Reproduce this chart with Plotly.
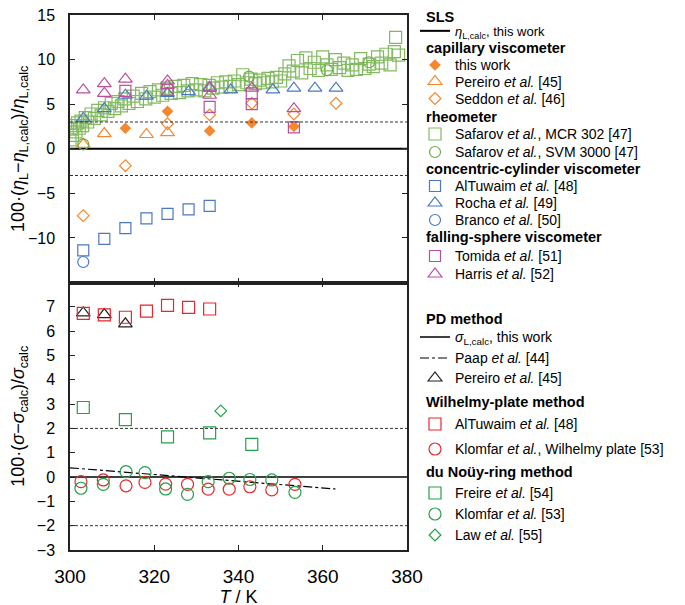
import plotly.graph_objects as go
from plotly.subplots import make_subplots

# ---------------- data: viscosity deviations (top panel) ----------------
T_ref = [300, 380]
calc_line = [0, 0]
eta_band = 3
sigma_band = 2

tw_T = [313.15, 323.15, 333.15, 343.15, 353.15]
tw_dev = [2.3, 4.2, 2.0, 2.9, 2.5]

pereiro_eta_T = [303.15, 308.15, 318.15, 323.15]
pereiro_eta_dev = [0.5, 1.7, 1.6, 1.8]

seddon_T = [303.15, 313.15, 323.15, 333.15, 343.15, 353.15, 363.15]
seddon_dev = [-7.5, -1.9, 2.8, 3.8, 5.1, 3.9, 5.1]

mcr_T = [300.0, 300.3, 300.6, 301.0, 301.4, 301.8, 302.2, 302.6, 303.0, 303.6, 304.2,
         305.0, 305.8, 306.6, 307.4, 308.2, 309.0, 309.8, 310.6, 311.4, 312.2, 313.0,
         314.0, 315.0, 316.0, 317.0, 318.0, 319.0, 320.0, 321.0, 322.0, 323.0, 324.0,
         325.0, 326.0, 327.0, 328.0, 329.0, 330.0, 331.0, 332.0, 333.0, 334.0, 335.0,
         336.0, 337.0, 338.0, 339.0, 340.0, 341.0, 342.0, 343.0, 344.0, 345.0, 346.0,
         347.0, 348.0, 349.0, 350.0, 351.0, 352.0, 353.0, 354.0, 355.0, 356.0, 357.0,
         358.0, 359.0, 360.0, 361.0, 362.0, 363.0, 364.0, 365.0, 366.0, 367.0, 368.0,
         369.0, 370.0, 371.0, 372.0, 373.0, 374.0, 375.0, 376.0, 377.0, 377.3, 378.0]
mcr_dev = [1.0, 2.2, 1.5, 2.6, 1.9, 2.9, 2.3, 3.1, 2.6, 3.5, 3.0,
           3.9, 3.4, 4.3, 3.8, 4.6, 4.2, 5.1, 4.5, 5.3, 4.8, 5.6,
           5.1, 5.9, 5.3, 6.2, 5.6, 6.4, 5.8, 6.6, 6.0, 6.8, 6.2,
           7.0, 6.3, 7.1, 6.5, 7.3, 6.6, 7.2, 6.5, 7.1, 6.8, 7.4,
           6.9, 7.5, 7.0, 7.6, 7.2, 8.3, 7.4, 7.8, 7.3, 7.7, 7.4,
           7.9, 7.5, 8.0, 7.6, 8.4, 9.3, 8.7, 9.9, 8.5, 10.2, 9.0,
           9.7, 8.8, 10.3, 9.4, 8.9, 10.0, 9.1, 9.6, 8.8, 9.4, 8.9,
           10.1, 9.0, 9.5, 9.2, 10.3, 9.6, 10.6, 9.4, 10.9, 12.5, 10.5]

svm_T = [303.15, 342.5, 361.0, 371.0]
svm_dev = [0.5, 8.1, 8.8, 9.7]

altuwaim_eta_T = [303.15, 308.15, 313.15, 318.15, 323.15, 328.15, 333.15]
altuwaim_eta_dev = [-11.4, -10.1, -8.9, -7.8, -7.3, -6.8, -6.4]

rocha_T = [303.15, 308.15, 313.15, 318.15, 323.15, 328.15, 333.15, 338.15, 348.15,
           353.15, 358.15, 363.15]
rocha_dev = [3.4, 4.5, 6.0, 5.9, 6.2, 6.4, 6.8, 6.6, 6.6, 6.8, 6.8, 6.8]

branco_T = [303.15]
branco_dev = [-12.7]

tomida_T = [313.15, 323.15, 333.15, 343.15, 343.15, 353.15]
tomida_dev = [6.5, 6.6, 4.7, 6.2, 5.0, 2.4]

harris_T = [303.15, 308.15, 308.15, 313.15, 323.15, 323.15, 333.15, 333.15, 343.15, 353.15]
harris_dev = [6.6, 7.3, 6.2, 7.8, 7.6, 7.1, 6.9, 6.0, 6.8, 4.5]

# ---------------- data: surface tension deviations (bottom panel) ----------------
paap_T = [300, 322.5, 341.5, 363]
paap_dev = [0.38, 0.07, -0.19, -0.49]

pereiro_sig_T = [303.15, 308.15, 313.15]
pereiro_sig_dev = [6.75, 6.68, 6.30]

altuwaim_sig_T = [303.15, 308.15, 313.15, 318.15, 323.15, 328.15, 333.15]
altuwaim_sig_dev = [6.73, 6.67, 6.57, 6.82, 7.06, 6.98, 6.91]

klomfar_T = [302.6, 307.9, 313.3, 317.8, 322.7, 327.9, 332.8, 337.8, 342.7, 347.9, 353.4]
klomfar_wp_dev = [-0.19, -0.12, -0.36, -0.22, -0.29, -0.30, -0.50, -0.50, -0.40, -0.53, -0.30]
klomfar_ring_dev = [-0.46, -0.30, 0.22, 0.18, -0.49, -0.71, -0.19, -0.05, -0.10, -0.12, -0.63]

freire_T = [303.15, 313.15, 323.15, 333.15, 343.15]
freire_dev = [2.86, 2.36, 1.65, 1.82, 1.34]

law_T = [335.8]
law_dev = [2.72]

x_ticks = [300, 320, 340, 360, 380]
y1_ticks = [-10, -5, 0, 5, 10, 15]
y2_ticks = [-3, -2, -1, 0, 1, 2, 3, 4, 5, 6, 7]

# ---------------- styles / layout ----------------
FONT = "Liberation Sans, Arial, sans-serif"
ORANGE = "#F5882F"
GREEN_L = "#6DAE45"
BLUE = "#4A78C8"
MAGENTA = "#B9509C"
RED = "#E8262B"
GREEN_D = "#22A24A"

LEG_FS = 14
TITLE_FS = 14.5
LEG_OFFSET = 14.6          # legend top -> centre of its single row (px)

# plot area in page pixels (the page adds an 8 px body margin around the figure)
PAGE_OFF = 8
PLOT_TOP, PLOT_BOT, PLOT_L, PLOT_R = 15, 550, 70, 407
PLOT_H = PLOT_BOT - PLOT_TOP
PLOT_W = PLOT_R - PLOT_L
LEG_LEFT = 415
TITLE_LEFT = 424

fig = make_subplots(rows=2, cols=1, shared_xaxes=True, vertical_spacing=0)

legends = {}
annotations = []


def px_x(p):
    return (p - PLOT_L) / PLOT_W


def px_y(p):
    return (PLOT_BOT - p) / PLOT_H


def legend_slot(row_px, size=LEG_FS):
    key = "legend" if not legends else "legend%d" % (len(legends) + 1)
    legends[key] = dict(x=px_x(LEG_LEFT), y=px_y(row_px - LEG_OFFSET), xanchor="left", yanchor="top",
                        bgcolor="rgba(0,0,0,0)", itemwidth=30, borderwidth=0,
                        font=dict(size=size, family=FONT, color="black"))
    return key


def group_title(text, row_px):
    annotations.append(dict(text="<b>" + text + "</b>", xref="paper", yref="paper", x=px_x(TITLE_LEFT),
                            y=px_y(row_px), xanchor="left", yanchor="middle", showarrow=False,
                            font=dict(size=TITLE_FS, family=FONT, color="black")))


def pts(x, y, name, symbol, color, size, row, row_px, lw=1.2, opacity=1.0):
    fig.add_trace(go.Scatter(
        x=x, y=y, mode="markers", name=name, legend=legend_slot(row_px), showlegend=True,
        opacity=opacity,
        marker=dict(symbol=symbol, size=size, color=color, line=dict(color=color, width=lw))),
        row=row, col=1)


def line(x, y, name, width, dash, row, row_px, size=LEG_FS):
    fig.add_trace(go.Scatter(x=x, y=y, mode="lines", name=name, legend=legend_slot(row_px, size),
                             showlegend=True, line=dict(color="black", width=width, dash=dash)),
                  row=row, col=1)


# top panel
group_title("SLS", 16.5)
line(T_ref, calc_line, "<i>η</i><sub>L,calc</sub>, this work", 2, "solid", 1, 30.5, size=13)
group_title("capillary viscometer", 48)
pts(tw_T, tw_dev, "this work", "diamond", ORANGE, 9, 1, 64, lw=0)
pts(pereiro_eta_T, pereiro_eta_dev, "Pereiro <i>et al.</i> [45]", "triangle-up-open", ORANGE, 12, 1, 80.5)
pts(seddon_T, seddon_dev, "Seddon <i>et al.</i> [46]", "diamond-open", ORANGE, 9, 1, 97.5)
group_title("rheometer", 117)
pts(mcr_T, mcr_dev, "Safarov <i>et al.</i>, MCR 302 [47]", "square-open", GREEN_L, 12, 1, 133, opacity=0.85)
pts(svm_T, svm_dev, "Safarov <i>et al.</i>, SVM 3000 [47]", "circle-open", GREEN_L, 11, 1, 151)
group_title("concentric-cylinder viscometer", 169)
pts(altuwaim_eta_T, altuwaim_eta_dev, "AlTuwaim <i>et al.</i> [48]", "square-open", BLUE, 11, 1, 185)
pts(rocha_T, rocha_dev, "Rocha <i>et al.</i> [49]", "triangle-up-open", BLUE, 12, 1, 202)
pts(branco_T, branco_dev, "Branco <i>et al.</i> [50]", "circle-open", BLUE, 11, 1, 219)
group_title("falling-sphere viscometer", 237)
pts(tomida_T, tomida_dev, "Tomida <i>et al.</i> [51]", "square-open", MAGENTA, 11, 1, 255)
pts(harris_T, harris_dev, "Harris <i>et al.</i> [52]", "triangle-up-open", MAGENTA, 12, 1, 273)

# bottom panel
group_title("PD method", 319)
line(T_ref, calc_line, "<i>σ</i><sub>L,calc</sub>, this work", 1.5, "solid", 2, 336)
line(paap_T, paap_dev, "Paap <i>et al.</i> [44]", 1.2, "dashdot", 2, 357)
pts(pereiro_sig_T, pereiro_sig_dev, "Pereiro <i>et al.</i> [45]", "triangle-up-open", "#222222", 12, 2, 377)
group_title("Wilhelmy-plate method", 402)
pts(altuwaim_sig_T, altuwaim_sig_dev, "AlTuwaim <i>et al.</i> [48]", "square-open", RED, 12, 2, 423)
pts(klomfar_T, klomfar_wp_dev, "Klomfar <i>et al.</i>, Wilhelmy plate [53]", "circle-open", RED, 12, 2, 448)
group_title("du Noüy-ring method", 472)
pts(freire_T, freire_dev, "Freire <i>et al.</i> [54]", "square-open", GREEN_D, 12, 2, 492)
pts(klomfar_T, klomfar_ring_dev, "Klomfar <i>et al.</i> [53]", "circle-open", GREEN_D, 12, 2, 513)
pts(law_T, law_dev, "Law <i>et al.</i> [55]", "diamond-open", GREEN_D, 9, 2, 534)

# dashed bands
for v in (eta_band, -eta_band):
    fig.add_hline(y=v, line=dict(color="#333333", width=1, dash="3px,2px"), row=1, col=1)
for v in (sigma_band, -sigma_band):
    fig.add_hline(y=v, line=dict(color="#333333", width=1, dash="3px,2px"), row=2, col=1)

axis_common = dict(showline=True, linecolor="#222222", linewidth=1.5, ticks="inside", ticklen=5,
                   tickwidth=1.2, tickcolor="#222222", showgrid=False, zeroline=False, automargin=False)

fig.update_xaxes(range=[300, 380], tickvals=x_ticks, mirror="ticks", **axis_common)
fig.update_xaxes(showticklabels=False, row=1, col=1)
fig.update_xaxes(tickfont=dict(size=19, family=FONT, color="black"), ticklabelstandoff=8,
                 title=dict(text="<i>T</i> / K", font=dict(size=18, family=FONT, color="black"), standoff=0),
                 row=2, col=1)

fig.update_yaxes(range=[-15, 15], tickvals=y1_ticks, mirror="ticks", ticklabeloverflow="allow",
                 tickfont=dict(size=16, family=FONT, color="black"), ticklabelstandoff=10,
                 title=dict(text="100·(<i>η</i><sub>L</sub>−<i>η</i><sub>L,calc</sub>)/<i>η</i><sub>L,calc</sub>",
                            font=dict(size=18, family=FONT, color="black"), standoff=4),
                 row=1, col=1, **axis_common)
fig.update_yaxes(range=[-3, 8], tickvals=y2_ticks, mirror=True,
                 tickfont=dict(size=16, family=FONT, color="black"), ticklabelstandoff=10,
                 title=dict(text="100·(<i>σ</i>−<i>σ</i><sub>calc</sub>)/<i>σ</i><sub>calc</sub>",
                            font=dict(size=18, family=FONT, color="black"), standoff=12),
                 row=2, col=1, **axis_common)

fig.update_layout(
    width=685, height=605,
    showlegend=True,
    margin=dict(l=PLOT_L - PAGE_OFF, r=685 + PAGE_OFF - PLOT_R, t=PLOT_TOP - PAGE_OFF,
                b=605 + PAGE_OFF - PLOT_BOT, autoexpand=False),
    paper_bgcolor="white", plot_bgcolor="white",
    font=dict(family=FONT, color="black"),
    yaxis3=dict(overlaying="y2", side="right", anchor="x2", range=[0, 5], tickvals=[1, 2, 3, 4],
                ticks="inside", ticklen=5, tickwidth=1.2, tickcolor="#222222",
                showticklabels=False, showgrid=False, zeroline=False, showline=False),
    annotations=annotations,
    **legends,
)

fig.write_html("out.html")
